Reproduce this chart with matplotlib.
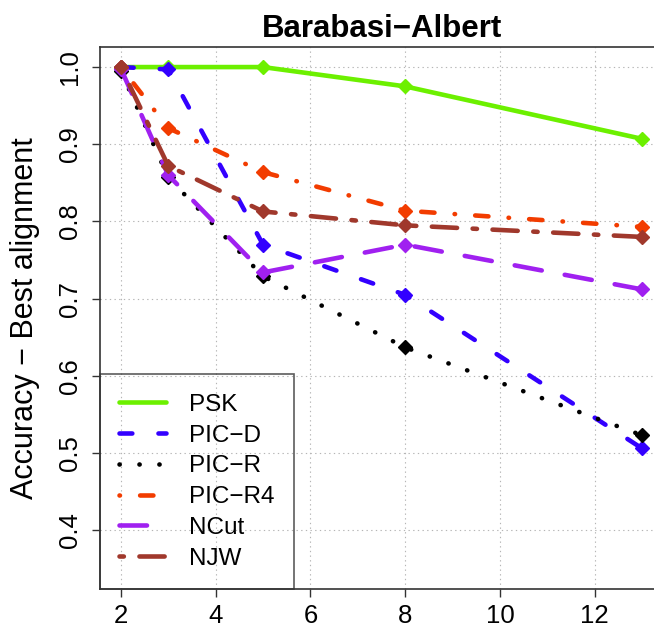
import matplotlib
matplotlib.use('Agg')
import matplotlib.pyplot as plt
from matplotlib.lines import Line2D

# 数据
x_k = [2, 3, 5, 8, 13]
psk = [1.000, 1.000, 1.000, 0.975, 0.907]
pic_d = [1.000, 0.997, 0.770, 0.705, 0.506]
pic_r = [0.995, 0.857, 0.729, 0.637, 0.523]
pic_r4 = [1.000, 0.921, 0.864, 0.814, 0.793]
ncut = [0.998, 0.860, 0.734, 0.770, 0.712]
njw = [1.000, 0.872, 0.813, 0.795, 0.780]

labels = ['PSK', 'PIC−D', 'PIC−R', 'PIC−R4', 'NCut', 'NJW']
x_ticks = [2, 4, 6, 8, 10, 12]
y_ticks = [0.4, 0.5, 0.6, 0.7, 0.8, 0.9, 1.0]

plt.rcParams['font.family'] = ['Liberation Sans', 'DejaVu Sans']

LW = 3.3
styles = [
    ('#6cf000', None),
    ('#3300ff', (0, (2.8, 5.7))),
    ('black', (0, (0.05, 4.3))),
    ('#f23c00', (0, (0.1, 4.4, 2.9, 4.4))),
    ('#a020f0', (0, (6.0, 5.1))),
    ('#a0382c', (0, (0.95, 3.4, 5.5, 3.4))),
]
series = [psk, pic_d, pic_r, pic_r4, ncut, njw]

fig = plt.figure(figsize=(6.54, 6.29), dpi=100)
ax = fig.add_axes([100 / 654, 1 - 589 / 629, 563 / 654, 542 / 629])

ax.set_xlim(1.56, 13.44)
ax.set_ylim(0.324, 1.026)
ax.set_xticks(x_ticks)
ax.set_yticks(y_ticks)
ax.set_yticklabels([f'{v:.1f}' for v in y_ticks])
ax.grid(True, color='#b5b5b5', linewidth=0.8, linestyle=(0, (1.2, 3)))
ax.set_axisbelow(True)

handles = []
for (color, ls), vals in zip(styles, series):
    ax.plot(x_k, vals, color=color, lw=LW, linestyle=ls if ls else '-',
            dash_capstyle='round', solid_capstyle='round',
            marker='D', ms=7.5, mec=color, mfc=color, zorder=3)
    handles.append(Line2D([], [], color=color, lw=LW, linestyle=ls if ls else '-',
                          dash_capstyle='round', solid_capstyle='round'))

for s in ax.spines.values():
    s.set_color('#333333')
    s.set_linewidth(1.2)

ax.tick_params(axis='both', direction='out', length=5.8, width=1.0,
               color='#333333', labelsize=18.5)
ax.tick_params(axis='x', pad=5)
ax.tick_params(axis='y', pad=7, labelrotation=90)
for t in ax.get_yticklabels():
    t.set_va('center')

ax.set_title('Barabasi−Albert', fontsize=22.5, fontweight='bold', pad=7)
ax.set_ylabel('Accuracy − Best alignment', fontsize=22, va='center')
ax.yaxis.set_label_coords(-75 / 563, 0.5)

leg = ax.legend(handles, labels, loc='lower left', bbox_to_anchor=(0, 0),
                borderaxespad=0, fontsize=17.5, frameon=True, fancybox=False,
                edgecolor='#333333', handlelength=1.9, handletextpad=0.95,
                borderpad=0.8, labelspacing=0.36)
leg.get_frame().set_facecolor('none')
leg.get_frame().set_linewidth(1.2)

fig.savefig('out.png', dpi=100)
